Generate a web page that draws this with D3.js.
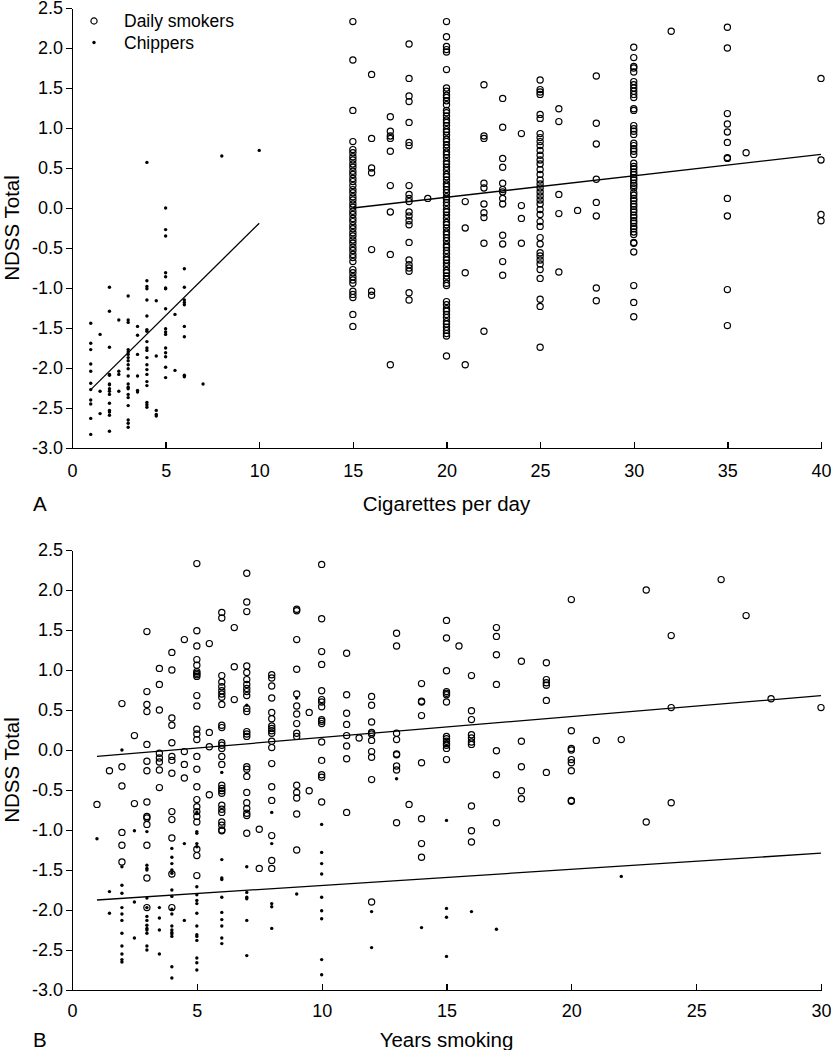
<!DOCTYPE html>
<html>
<head>
<meta charset="utf-8">
<script src="https://cdn.jsdelivr.net/npm/d3@7"></script>
<style>
  body { margin: 0; background: #fff; }
  svg { display: block; font-family: "Liberation Sans", Arial, sans-serif; }
  .axis path, .axis line { stroke: #000; stroke-width: 1.3; shape-rendering: crispEdges; }
  .axis text { font-size: 18px; fill: #000; }
  .title { font-size: 20.5px; fill: #000; }
  .legend { font-size: 17.5px; fill: #000; }
</style>
</head>
<body>
<script>

// ---- data: [x, [NDSS values at that x]] ----

// panel A : cigarettes per day
var cigDaily = [
  [15, [2.33, 1.85, 1.22, 0.83, 0.73, 0.69, 0.64, 0.60, 0.55, 0.51, 0.46, 0.42, 0.37, 0.33, 0.28, 0.23, 0.19, 0.14, 0.10, 0.05, 0.01, -0.04, -0.08, -0.13, -0.17, -0.22, -0.26, -0.31, -0.35, -0.40, -0.44, -0.49, -0.53, -0.58, -0.62, -0.67, -0.77, -0.81, -0.86, -0.90, -0.94, -1.04, -1.08, -1.12, -1.33, -1.48]],
  [16, [1.67, 0.87, 0.50, 0.44, -0.52, -1.04, -1.09]],
  [17, [1.14, 0.96, 0.90, 0.87, 0.71, 0.28, -0.05, -0.58, -1.96]],
  [18, [2.05, 1.62, 1.40, 1.33, 1.07, 0.82, 0.78, 0.28, 0.17, 0.12, 0.08, -0.05, -0.10, -0.16, -0.21, -0.43, -0.65, -0.71, -0.75, -0.79, -1.06, -1.15]],
  [19, [0.12]],
  [20, [2.33, 2.14, 2.02, 1.98, 1.95, 1.73, 1.50, 1.46, 1.41, 1.38, 1.34, 1.29, 1.22, 1.19, 1.15, 1.10, 1.07, 1.03, 0.98, 0.95, 0.91, 0.86, 0.83, 0.79, 0.75, 0.70, 0.67, 0.63, 0.58, 0.55, 0.51, 0.47, 0.42, 0.39, 0.35, 0.30, 0.27, 0.23, 0.19, 0.14, 0.11, 0.07, 0.03, -0.02, -0.05, -0.09, -0.13, -0.18, -0.21, -0.25, -0.30, -0.33, -0.37, -0.41, -0.46, -0.49, -0.53, -0.57, -0.62, -0.65, -0.69, -0.73, -0.78, -0.81, -0.85, -0.89, -0.94, -0.97, -1.17, -1.21, -1.26, -1.29, -1.33, -1.37, -1.42, -1.45, -1.49, -1.53, -1.57, -1.60, -1.85]],
  [21, [0.08, -0.25, -0.81, -1.96]],
  [22, [1.54, 0.90, 0.87, 0.31, 0.25, 0.05, -0.06, -0.12, -0.44, -1.54]],
  [23, [1.37, 1.01, 0.62, 0.51, 0.31, 0.23, 0.20, 0.12, 0.05, -0.34, -0.45, -0.67, -0.84]],
  [24, [0.93, 0.03, -0.13, -0.44]],
  [25, [1.60, 1.48, 1.45, 1.42, 1.17, 1.12, 0.93, 0.88, 0.83, 0.78, 0.72, 0.66, 0.60, 0.55, 0.48, 0.42, 0.35, 0.30, 0.25, 0.20, 0.15, 0.10, 0.05, -0.02, -0.08, -0.17, -0.23, -0.37, -0.45, -0.56, -0.60, -0.65, -0.70, -0.77, -0.88, -1.14, -1.23, -1.74]],
  [26, [1.24, 1.08, 0.17, -0.07, -0.80]],
  [27, [-0.03]],
  [28, [1.65, 1.06, 0.80, 0.36, 0.07, -0.10, -1.00, -1.16]],
  [30, [2.01, 1.88, 1.77, 1.75, 1.70, 1.58, 1.54, 1.50, 1.46, 1.42, 1.38, 1.24, 1.22, 1.03, 0.99, 0.96, 0.92, 0.81, 0.78, 0.74, 0.71, 0.67, 0.56, 0.52, 0.49, 0.45, 0.42, 0.38, 0.35, 0.31, 0.28, 0.25, 0.19, 0.16, 0.12, 0.09, 0.05, 0.02, -0.02, -0.05, -0.09, -0.12, -0.16, -0.19, -0.23, -0.26, -0.30, -0.33, -0.43, -0.44, -0.55, -0.97, -1.18, -1.36]],
  [32, [2.21]],
  [35, [2.26, 2.00, 1.18, 1.05, 0.95, 0.82, 0.63, 0.62, 0.12, -0.10, -1.02, -1.47]],
  [36, [0.69]],
  [40, [1.62, 0.60, -0.08, -0.16]]
];

var cigChippers = [
  [1,   [-1.44, -1.69, -1.77, -1.95, -2.04, -2.19, -2.27, -2.40, -2.45, -2.63, -2.83]],
  [1.5, [-1.58, -2.29, -2.57]],
  [2,   [-0.99, -1.29, -1.74, -2.08, -2.09, -2.20, -2.21, -2.26, -2.29, -2.33, -2.44, -2.53, -2.55, -2.59, -2.79]],
  [2.5, [-1.40, -2.04, -2.08, -2.29]],
  [3,   [-1.10, -1.40, -1.43, -1.77, -1.80, -1.83, -1.87, -1.91, -1.96, -2.01, -2.10, -2.20, -2.24, -2.26, -2.33, -2.37, -2.47, -2.65, -2.69, -2.74]],
  [3.5, [-1.48, -1.59, -1.83, -2.10, -2.28, -2.30]],
  [4,   [0.57, -0.91, -0.98, -1.01, -1.15, -1.35, -1.52, -1.54, -1.67, -1.75, -1.78, -1.87, -1.96, -2.02, -2.08, -2.17, -2.22, -2.43, -2.46, -2.49]],
  [4.5, [-1.16, -1.85, -2.53, -2.58, -2.60]],
  [5,   [0.00, -0.27, -0.35, -0.81, -0.86, -1.00, -1.01, -1.26, -1.51, -1.55, -1.58, -1.75, -1.81, -1.86, -1.99, -2.12]],
  [5.5, [-1.33, -2.03]],
  [6,   [-0.76, -0.99, -1.15, -1.18, -1.21, -1.48, -1.61, -2.09, -2.11]],
  [7,   [-2.20]],
  [8,   [0.65]],
  [10,  [0.72]]
];

// fitted lines, [x, y] end points
var cigDailyFit = [[15, 0.00], [40, 0.67]];
var cigChippersFit = [[1, -2.27], [10, -0.19]];

// panel B : years smoking
var yrsDaily = [
  [1,   [-0.68]],
  [1.5, [-0.26]],
  [2,   [0.58, -0.21, -0.45, -1.03, -1.19, -1.40]],
  [2.5, [0.18, -0.67]],
  [3,   [1.48, 0.73, 0.57, 0.48, 0.07, -0.14, -0.26, -0.65, -0.83, -0.85, -0.93, -1.19, -1.60, -1.97]],
  [3.5, [1.02, 0.82, 0.50, -0.04, -0.10, -0.15, -0.25, -0.47]],
  [4,   [1.22, 1.00, 0.40, 0.31, 0.09, -0.08, -0.13, -0.29, -0.77, -0.87, -1.10, -1.55, -1.97]],
  [4.5, [1.38, -0.02, -0.18, -0.35]],
  [5,   [2.33, 1.49, 1.30, 1.13, 1.06, 0.98, 0.96, 0.94, 0.92, 0.68, 0.55, 0.26, 0.20, 0.13, -0.08, -0.24, -0.46, -0.62, -0.71, -0.77, -0.83, -0.90, -1.24, -1.32, -1.57]],
  [5.5, [1.33, 0.22, 0.04, -0.56]],
  [6,   [1.72, 1.65, 0.93, 0.85, 0.79, 0.74, 0.70, 0.66, 0.57, 0.31, 0.28, 0.09, 0.06, 0.02, -0.08, -0.18, -0.44, -0.48, -0.51, -0.54, -0.69, -0.74, -0.78, -0.90, -0.94, -1.00, -1.01]],
  [6.5, [1.53, 1.04, 0.63]],
  [7,   [2.21, 1.85, 1.73, 1.05, 0.97, 0.88, 0.82, 0.77, 0.73, 0.68, 0.52, 0.48, 0.23, 0.20, 0.17, -0.21, -0.24, -0.33, -0.53, -0.66, -0.73, -0.79, -0.82, -1.04]],
  [7.5, [-0.99, -1.48]],
  [8,   [0.94, 0.90, 0.80, 0.65, 0.47, 0.39, 0.30, 0.27, 0.24, 0.21, 0.11, 0.03, -0.17, -0.46, -0.63, -1.07, -1.38, -1.48]],
  [9,   [1.76, 1.74, 1.38, 1.01, 0.70, 0.55, 0.45, 0.33, 0.21, 0.17, -0.44, -0.53, -0.60, -0.80, -1.25]],
  [9.5, [0.47, -0.51]],
  [10,  [2.32, 1.64, 1.23, 1.07, 0.74, 0.63, 0.60, 0.54, 0.38, 0.36, 0.33, 0.10, -0.13, -0.31, -0.34, -0.65]],
  [11,  [1.21, 0.69, 0.46, 0.32, 0.18, 0.05, -0.11, -0.78]],
  [11.5, [0.15]],
  [12,  [0.67, 0.56, 0.35, 0.22, 0.20, 0.12, -0.02, -0.09, -0.37, -1.90]],
  [13,  [1.46, 1.30, 0.21, 0.13, -0.05, -0.06, -0.20, -0.25, -0.91]],
  [13.5, [-0.68]],
  [14,  [0.83, 0.61, 0.60, 0.43, -0.16, -0.86, -1.17, -1.34]],
  [15,  [1.62, 1.40, 0.99, 0.73, 0.71, 0.69, 0.60, 0.17, 0.14, 0.11, 0.08, 0.06, 0.02, -0.12]],
  [15.5, [1.30]],
  [16,  [0.93, 0.49, 0.38, 0.19, 0.15, 0.10, 0.07, -0.70, -1.01, -1.15]],
  [17,  [1.53, 1.42, 1.19, 0.82, -0.01, -0.31, -0.91]],
  [18,  [1.11, 0.11, -0.21, -0.51, -0.61]],
  [19,  [1.09, 0.88, 0.84, 0.81, 0.62, -0.28]],
  [20,  [1.88, 0.24, 0.02, 0.00, -0.12, -0.16, -0.26, -0.63, -0.64]],
  [21,  [0.12]],
  [22,  [0.13]],
  [23,  [2.00, -0.90]],
  [24,  [1.43, 0.53, -0.66]],
  [26,  [2.13]],
  [27,  [1.68]],
  [28,  [0.64]],
  [30,  [0.53]]
];

var yrsChippers = [
  [1,   [-1.11]],
  [1.5, [-1.77, -2.04]],
  [2,   [0.00, -1.46, -1.69, -1.79, -1.97, -2.05, -2.13, -2.29, -2.45, -2.55, -2.62, -2.65]],
  [2.5, [-1.01, -1.90, -2.35]],
  [3,   [-1.02, -1.44, -1.48, -1.50, -1.85, -1.97, -2.08, -2.13, -2.19, -2.23, -2.25, -2.29, -2.45, -2.50]],
  [3.5, [-1.97, -2.10, -2.25, -2.55]],
  [4,   [-1.23, -1.34, -1.42, -1.50, -1.54, -1.75, -1.83, -1.99, -2.05, -2.20, -2.25, -2.28, -2.30, -2.33, -2.71, -2.85]],
  [4.5, [-1.17, -2.13]],
  [5,   [-0.78, -1.02, -1.04, -1.17, -1.21, -1.71, -1.81, -1.88, -1.92, -2.04, -2.20, -2.31, -2.33, -2.38, -2.60, -2.66, -2.75]],
  [6,   [-0.28, -1.37, -1.60, -1.62, -1.84, -2.03, -2.12, -2.20, -2.35, -2.42]],
  [7,   [0.56, -1.46, -1.78, -1.84, -1.86, -2.13, -2.57]],
  [8,   [-0.78, -1.17, -1.92, -1.96, -2.23]],
  [9,   [0.65, -1.80]],
  [10,  [-0.93, -1.28, -1.42, -1.55, -1.84, -2.01, -2.11, -2.62, -2.81]],
  [12,  [-2.02, -2.47]],
  [13,  [-0.36]],
  [14,  [-2.22]],
  [15,  [-0.88, -1.98, -2.09, -2.58]],
  [16,  [-2.02]],
  [17,  [-2.24]],
  [22,  [-1.58]]
];

var yrsDailyFit = [[1, -0.08], [30, 0.68]];
var yrsChippersFit = [[1, -1.875], [30, -1.29]];

var yTicks = [-3, -2.5, -2, -1.5, -1, -0.5, 0, 0.5, 1, 1.5, 2, 2.5];
var cigTicks = [0, 5, 10, 15, 20, 25, 30, 35, 40];
var yrsTicks = [0, 5, 10, 15, 20, 25, 30];
var legendLabels = ["Daily smokers", "Chippers"];

// ---- layout ----
var margin = {left: 72, right: 10},
    width = 831 - margin.left - margin.right,
    plotHeight = 440;

var svg = d3.select("body").append("svg")
    .attr("width", 831)
    .attr("height", 1050);

function flatten(cols) {
  return cols.flatMap(function(c) { return c[1].map(function(v) { return [c[0], v]; }); });
}

function panel(opt) {
  var x = d3.scaleLinear().domain(opt.xDomain).range([margin.left, margin.left + width]);
  var y = d3.scaleLinear().domain([-3, 2.5]).range([opt.top + plotHeight, opt.top]);

  var g = svg.append("g");

  var yAxis = d3.axisLeft(y)
      .tickValues(yTicks)
      .tickFormat(function(d) { return d.toFixed(1); })
      .tickSize(6)
      .tickSizeOuter(0)
      .tickPadding(3);

  var xAxis = d3.axisBottom(x)
      .tickValues(opt.xTicks)
      .tickFormat(d3.format("d"))
      .tickSize(-6)
      .tickSizeOuter(0)
      .tickPadding(opt.tickPad);

  g.append("g")
      .attr("class", "y axis")
      .attr("transform", "translate(" + margin.left + ",0)")
      .call(yAxis);

  g.append("g")
      .attr("class", "x axis")
      .attr("transform", "translate(0," + (opt.top + plotHeight) + ")")
      .call(xAxis);

  g.selectAll(".axis text").attr("font-family", null).attr("font-size", null);

  // fit lines
  var line = d3.line().x(function(d) { return x(d[0]); }).y(function(d) { return y(d[1]); });
  opt.fits.forEach(function(f) {
    g.append("path")
        .datum(f)
        .attr("d", line)
        .attr("fill", "none")
        .attr("stroke", "#000")
        .attr("stroke-width", 1.3);
  });

  // chippers: small filled dots
  g.append("g").selectAll("circle")
      .data(flatten(opt.chippers))
      .enter().append("circle")
      .attr("cx", function(d) { return x(d[0]); })
      .attr("cy", function(d) { return y(d[1]); })
      .attr("r", 1.7)
      .attr("fill", "#000");

  // daily smokers: open circles
  g.append("g").selectAll("circle")
      .data(flatten(opt.daily))
      .enter().append("circle")
      .attr("cx", function(d) { return x(d[0]); })
      .attr("cy", function(d) { return y(d[1]); })
      .attr("r", 3.1)
      .attr("fill", "none")
      .attr("stroke", "#000")
      .attr("stroke-width", 1.2);

  // titles
  g.append("text")
      .attr("class", "title")
      .attr("x", margin.left + width / 2)
      .attr("y", opt.top + plotHeight + opt.titleOffset)
      .attr("text-anchor", "middle")
      .text(opt.xTitle);

  g.append("text")
      .attr("class", "title")
      .attr("transform", "translate(19," + (opt.top + plotHeight / 2) + ") rotate(-90)")
      .attr("text-anchor", "middle")
      .text("NDSS Total");

  g.append("text")
      .attr("class", "title")
      .attr("x", 33)
      .attr("y", opt.top + plotHeight + opt.titleOffset)
      .text(opt.letter);

  return {x: x, y: y, g: g};
}

panel({
  top: 8, xDomain: [0, 40], xTicks: cigTicks, tickPad: 16, titleOffset: 63,
  daily: cigDaily, chippers: cigChippers, fits: [cigDailyFit, cigChippersFit],
  xTitle: "Cigarettes per day", letter: "A"
});

panel({
  top: 550, xDomain: [0, 30], xTicks: yrsTicks, tickPad: 14, titleOffset: 57,
  daily: yrsDaily, chippers: yrsChippers, fits: [yrsDailyFit, yrsChippersFit],
  xTitle: "Years smoking", letter: "B"
});

// legend (panel A, top left)
var legend = svg.append("g").attr("transform", "translate(94,21)");
legend.append("circle").attr("r", 3.1).attr("fill", "none").attr("stroke", "#000").attr("stroke-width", 1.2);
legend.append("circle").attr("cy", 21.5).attr("r", 1.7).attr("fill", "#000");
legend.selectAll("text")
    .data(legendLabels)
    .enter().append("text")
    .attr("class", "legend")
    .attr("x", 30)
    .attr("y", function(d, i) { return i * 21.5 + 6; })
    .text(function(d) { return d; });

</script>
</body>
</html>
